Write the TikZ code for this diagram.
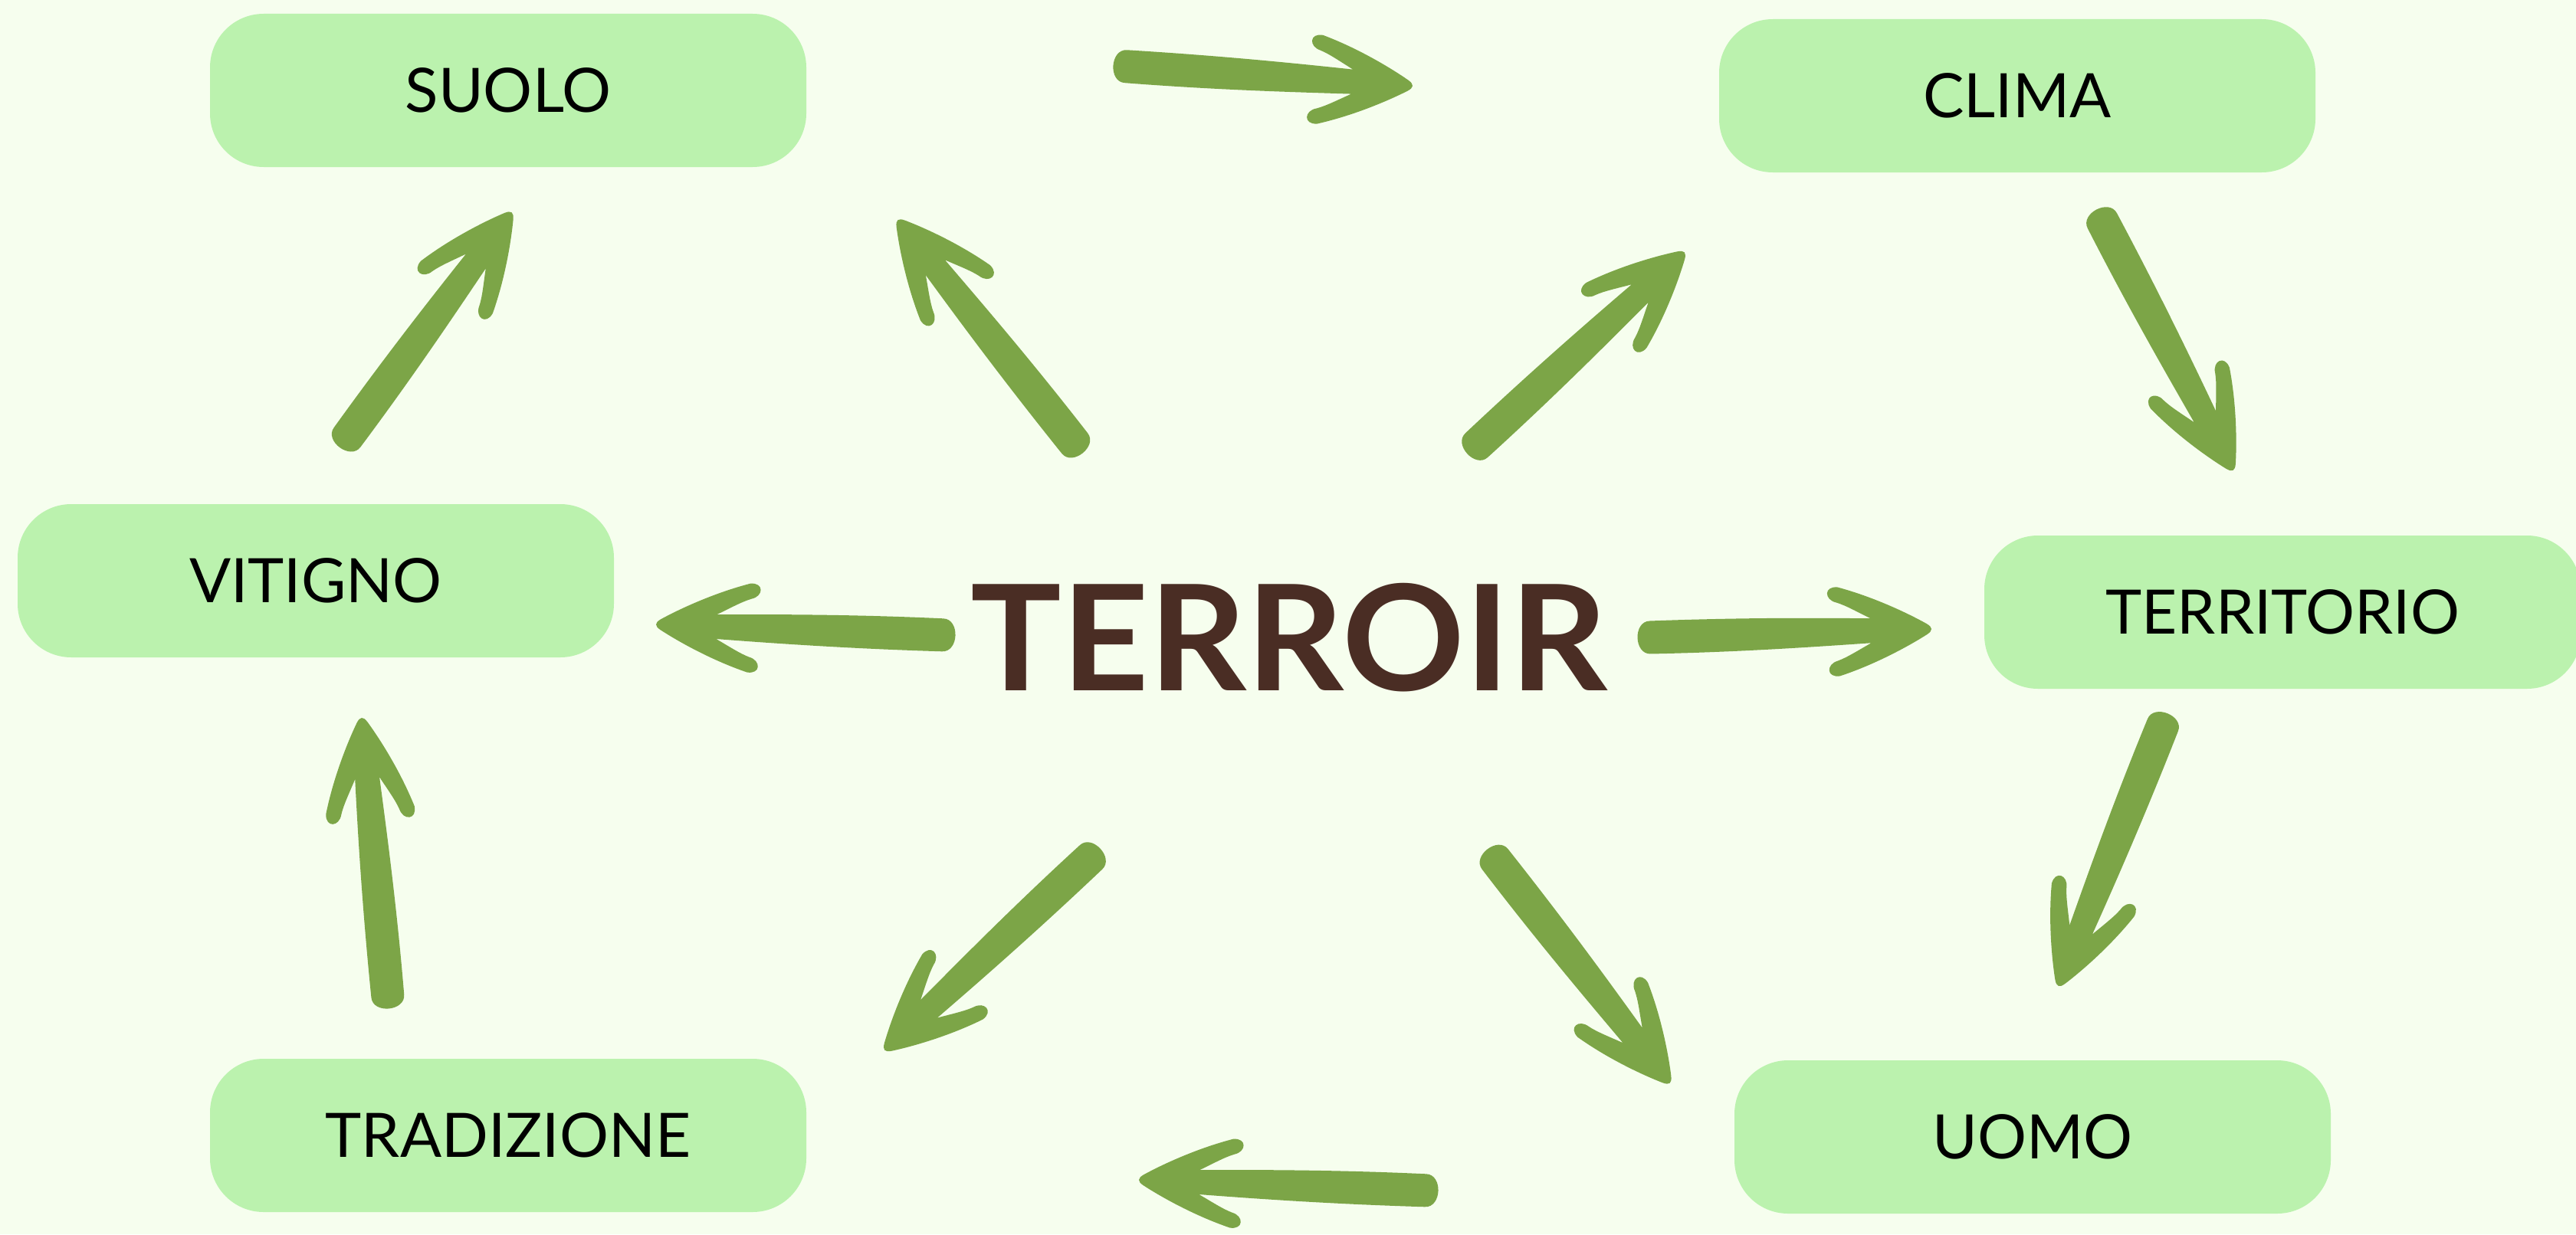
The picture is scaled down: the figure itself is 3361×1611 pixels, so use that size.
\documentclass[tikz,border=0pt]{standalone}
\usepackage{fontspec}
\setmainfont{Lato}
\usepackage{graphicx}
\usetikzlibrary{calc}
\definecolor{bgc}{HTML}{F6FEEE}
\definecolor{boxc}{HTML}{BBF2AE}
\definecolor{arrowc}{HTML}{7CA547}
\definecolor{brownc}{HTML}{4A2D24}
\tikzset{
  box/.style={fill=boxc, rounded corners=70pt, minimum width=778pt, minimum height=200pt,
    inner sep=0pt, font=\fontsize{80}{96}\selectfont, text=black},
  titletext/.style={inner sep=0pt, text=brownc},
  harrowfill/.style={fill=arrowc},
}
\newcommand\handarrow[2]{%
  \path let \p1=($(#2)-(#1)$) in
    \pgfextra{\pgfmathsetmacro\tmpang{atan2(\y1,\x1)}%
      \pgfmathsetmacro\tmplen{veclen(\x1,\y1)}%
      \xdef\harang{\tmpang}\xdef\harlen{\tmplen}};
  \begin{scope}[shift={(#1)},rotate=\harang]
    \fill[harrowfill]
      (18,-21)
      .. controls ({0.35*\harlen},-22) and ({0.6*\harlen},-19) .. ({\harlen-78},-16)
      .. controls ({\harlen-95},-25) and ({\harlen-110},-34) .. ({\harlen-122},-38)
      .. controls ({\harlen-138},-42) and ({\harlen-138},-60) .. ({\harlen-120},-58)
      .. controls ({\harlen-70},-43) and ({\harlen-25},-19) .. ({\harlen-5},-7)
      .. controls ({\harlen+3},-2) and ({\harlen+3},2) .. ({\harlen-5},7)
      .. controls ({\harlen-25},19) and ({\harlen-70},43) .. ({\harlen-120},58)
      .. controls ({\harlen-138},60) and ({\harlen-138},42) .. ({\harlen-122},38)
      .. controls ({\harlen-110},34) and ({\harlen-95},25) .. ({\harlen-78},16)
      .. controls ({0.6*\harlen},19) and ({0.35*\harlen},23) .. (18,22)
      .. controls (-4,22) and (-4,-21) .. (18,-21)
      -- cycle;
  \end{scope}}

\begin{document}
\begin{tikzpicture}[x=1pt,y=-1pt]
\useasboundingbox (0,0) rectangle (3361,1611);
\clip (0,0) rectangle (3361,1611);
\fill[bgc] (0,0) rectangle (3361,1611);

% boxes
\node[box] (suolo) at (663,118) {SUOLO};
\node[box] (clima) at (2632,125) {CLIMA};
\node[box] (vitigno) at (412,758) {VITIGNO};
\node[box] (territorio) at (2978,799) {TERRITORIO};
\node[box] (tradizione) at (663,1482) {TRADIZIONE};
\node[box] (uomo) at (2652,1484) {UOMO};

% title
\node[titletext] (terroir) at (1682,832) {\resizebox{830pt}{140pt}{\bfseries TERROIR}};

% arrow end points
\coordinate (a-t) at (1451,85);   \coordinate (a-h) at (1842,112);
\coordinate (b-t) at (2735,272);  \coordinate (b-h) at (2913,613);
\coordinate (c-t) at (2829,930);  \coordinate (c-h) at (2686,1286);
\coordinate (d-t) at (1878,1555); \coordinate (d-h) at (1487,1540);
\coordinate (e-t) at (507,1318);  \coordinate (e-h) at (472,938);
\coordinate (f-t) at (442,585);   \coordinate (f-h) at (667,278);
\coordinate (g-t) at (1413,593);  \coordinate (g-h) at (1172,288);
\coordinate (h-t) at (1913,593);  \coordinate (h-h) at (2197,330);
\coordinate (i-t) at (1248,830);  \coordinate (i-h) at (857,815);
\coordinate (j-t) at (2135,832);  \coordinate (j-h) at (2519,821);
\coordinate (k-t) at (1437,1107); \coordinate (k-h) at (1155,1370);
\coordinate (l-t) at (1940,1107); \coordinate (l-h) at (2178,1413);

\handarrow{a-t}{a-h}
\handarrow{b-t}{b-h}
\handarrow{c-t}{c-h}
\handarrow{d-t}{d-h}
\handarrow{e-t}{e-h}
\handarrow{f-t}{f-h}
\handarrow{g-t}{g-h}
\handarrow{h-t}{h-h}
\handarrow{i-t}{i-h}
\handarrow{j-t}{j-h}
\handarrow{k-t}{k-h}
\handarrow{l-t}{l-h}
\end{tikzpicture}
\end{document}
